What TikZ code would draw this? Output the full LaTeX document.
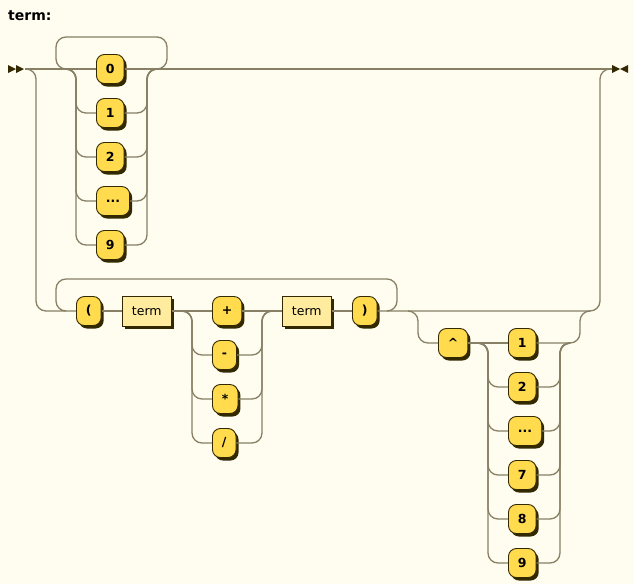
\documentclass[tikz,border=0pt]{standalone}
\usepackage{fontspec}
\setmainfont{DejaVu Sans}
\usepackage{tikz}
\usetikzlibrary{shadows}

\definecolor{rrback}{HTML}{FFFCF0}
\definecolor{rrterm}{HTML}{FFDB4D}
\definecolor{rrnonterm}{HTML}{FFEC9E}
\definecolor{rrdark}{HTML}{332900}
\definecolor{rrline}{RGB}{135,128,100}

\begin{document}
\begin{tikzpicture}[x=1pt, y=-1pt,
  terminal/.style={draw=rrdark, fill=rrterm, line width=0.9pt, rounded corners=8pt, minimum height=29pt, inner xsep=9.5pt, anchor=west, font=\fontsize{12.5}{15}\selectfont\bfseries, drop shadow={shadow xshift=2.5pt, shadow yshift=-3pt, fill=rrdark, opacity=1}},
  nonterminal/.style={draw=rrdark, fill=rrnonterm, line width=0.9pt, minimum height=30pt, inner xsep=9.5pt, anchor=west, font=\fontsize{12.5}{15}\selectfont, drop shadow={shadow xshift=2.5pt, shadow yshift=-3pt, fill=rrdark, opacity=1}},
  rail/.style={draw=rrline, line width=1.3pt, rounded corners=10pt}]
  \fill[rrback] (0,0) rectangle (634,584);
  \useasboundingbox (0,0) rectangle (634,584);

  \node[anchor=base west, inner sep=0pt, font=\fontsize{14}{16}\selectfont\bfseries] (title) at (8,20) {term:};

  % start and end marks
  \coordinate (start) at (25,69);
  \coordinate (end) at (612,69);
  \fill[rrdark] (8,65) -- (16,69) -- (8,73) -- cycle (16,65) -- (24,69) -- (16,73) -- cycle;
  \fill[rrdark] (612,65) -- (620,69) -- (612,73) -- cycle (628,65) -- (620,69) -- (628,73) -- cycle;

  % digits
  \node[terminal] (dig0) at (96,69) {0};
  \node[terminal] (dig1) at (96,113) {1};
  \node[terminal] (dig2) at (96,157) {2};
  \node[terminal] (digdot) at (96,201) {...};
  \node[terminal] (dig9) at (96,245) {9};

  % bracketed term
  \node[terminal] (lpar) at (76,311) {(};
  \node[nonterminal] (term1) at (122,311) {term};
  \node[terminal] (plus) at (212,311) {+};
  \node[terminal] (minus) at (212,355) {-};
  \node[terminal] (times) at (212,399) {*};
  \node[terminal] (divide) at (212,443) {/};
  \node[nonterminal] (term2) at (282,311) {term};
  \node[terminal] (rpar) at (352,311) {)};

  % exponent
  \node[terminal] (caret) at (438,343) {\textasciicircum};
  \node[terminal] (exp1) at (508,343) {1};
  \node[terminal] (exp2) at (508,387) {2};
  \node[terminal] (expdot) at (508,431) {...};
  \node[terminal] (exp7) at (508,475) {7};
  \node[terminal] (exp8) at (508,519) {8};
  \node[terminal] (exp9) at (508,563) {9};

  \coordinate (dsplit) at (66,69);
  \coordinate (dmerge) at (157,69);
  \coordinate (dL) at (76,69);
  \coordinate (dR) at (147,69);
  \coordinate (dloopR) at (167,37);
  \coordinate (dloopL) at (56,69);

  \coordinate (bL) at (36,311);
  \coordinate (bsplit) at (66,311);
  \coordinate (bmerge) at (387,311);
  \coordinate (bloopR) at (397,279);
  \coordinate (bloopL) at (56,311);

  \coordinate (osplit) at (182,311);
  \coordinate (oL) at (192,311);
  \coordinate (oR) at (262,311);
  \coordinate (omerge) at (272,311);

  \coordinate (esplit) at (408,311);
  \coordinate (eoptL) at (418,343);
  \coordinate (eoptR) at (580,311);
  \coordinate (emerge) at (590,311);
  \coordinate (rjoin) at (600,69);
  \coordinate (xsplit) at (478,343);
  \coordinate (xL) at (488,343);
  \coordinate (xR) at (560,343);
  \coordinate (xmerge) at (570,343);

  % top line
  \draw[rail] (start) -- (dig0.west);
  \draw[rail] (dig0.east) -- (end);
  \draw[rail] (dsplit) -| (dL |- dig1.west) -- (dig1.west);
  \draw[rail] (dsplit) -| (dL |- dig2.west) -- (dig2.west);
  \draw[rail] (dsplit) -| (dL |- digdot.west) -- (digdot.west);
  \draw[rail] (dsplit) -| (dL |- dig9.west) -- (dig9.west);
  \draw[rail] (dig1.east) -| (dR) -- (dmerge);
  \draw[rail] (dig2.east) -| (dR) -- (dmerge);
  \draw[rail] (digdot.east) -| (dR) -- (dmerge);
  \draw[rail] (dig9.east) -| (dR) -- (dmerge);
  \draw[rail] (dmerge) -| (dloopR) -| (dloopL) -- (dsplit);

  % bottom line
  \draw[rail] (start) -| (bL) -- (lpar.west);
  \draw[rail] (lpar.east) -- (term1.west);
  \draw[rail] (term1.east) -- (plus.west);
  \draw[rail] (osplit) -| (oL |- minus.west) -- (minus.west);
  \draw[rail] (osplit) -| (oL |- times.west) -- (times.west);
  \draw[rail] (osplit) -| (oL |- divide.west) -- (divide.west);
  \draw[rail] (minus.east) -| (oR) -- (omerge);
  \draw[rail] (times.east) -| (oR) -- (omerge);
  \draw[rail] (divide.east) -| (oR) -- (omerge);
  \draw[rail] (plus.east) -- (term2.west);
  \draw[rail] (term2.east) -- (rpar.west);
  \draw[rail] (bmerge) -| (bloopR) -| (bloopL) -- (bsplit);
  \draw[rail] (rpar.east) -| (rjoin) -- (end);

  % exponent line
  \draw[rail] (esplit) -| (eoptL) -- (caret.west);
  \draw[rail] (caret.east) -- (exp1.west);
  \draw[rail] (xsplit) -| (xL |- exp2.west) -- (exp2.west);
  \draw[rail] (xsplit) -| (xL |- expdot.west) -- (expdot.west);
  \draw[rail] (xsplit) -| (xL |- exp7.west) -- (exp7.west);
  \draw[rail] (xsplit) -| (xL |- exp8.west) -- (exp8.west);
  \draw[rail] (xsplit) -| (xL |- exp9.west) -- (exp9.west);
  \draw[rail] (exp2.east) -| (xR) -- (xmerge);
  \draw[rail] (expdot.east) -| (xR) -- (xmerge);
  \draw[rail] (exp7.east) -| (xR) -- (xmerge);
  \draw[rail] (exp8.east) -| (xR) -- (xmerge);
  \draw[rail] (exp9.east) -| (xR) -- (xmerge);
  \draw[rail] (exp1.east) -| (eoptR) -- (emerge);
\end{tikzpicture}
\end{document}
